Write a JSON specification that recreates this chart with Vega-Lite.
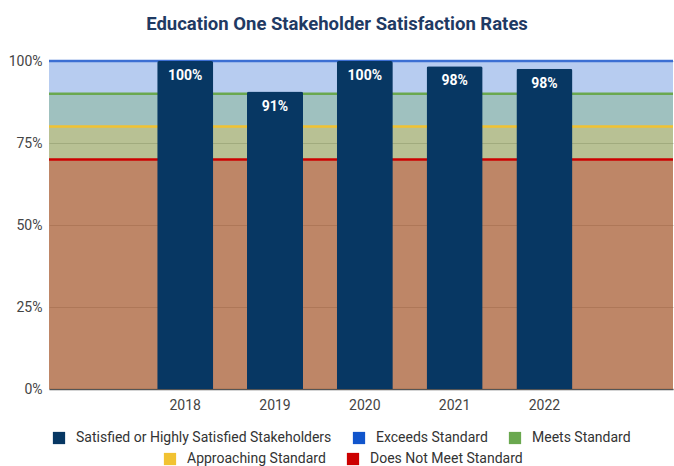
{
  "$schema": "https://vega.github.io/schema/vega-lite/v6.json",
  "autosize": {"type": "none"},
  "width": 624,
  "height": 328,
  "padding": {"left": 49, "top": 61, "right": 1, "bottom": 77},
  "background": "white",
  "title": {
    "text": "Education One Stakeholder Satisfaction Rates",
    "font": "Roboto",
    "fontSize": 18.5,
    "fontWeight": "bold",
    "color": "#1f3a63",
    "anchor": "middle",
    "dx": -24,
    "offset": 21
  },
  "datasets": {
    "bars": [
      {"year": "2018", "rate": 1.0},
      {"year": "2019", "rate": 0.907},
      {"year": "2020", "rate": 1.0},
      {"year": "2021", "rate": 0.984},
      {"year": "2022", "rate": 0.976}
    ],
    "bands": [
      {"level": "Exceeds Standard", "value": 1.0},
      {"level": "Meets Standard", "value": 0.9},
      {"level": "Approaching Standard", "value": 0.8},
      {"level": "Does Not Meet Standard", "value": 0.7}
    ]
  },
  "encoding": {
    "y": {
      "type": "quantitative",
      "scale": {"domain": [0, 1], "nice": false},
      "axis": {
        "values": [0, 0.25, 0.5, 0.75, 1],
        "format": ".0%",
        "title": null,
        "domain": false,
        "ticks": false,
        "grid": true,
        "gridColor": "#bdbdbd",
        "labelFont": "Roboto",
        "labelFontSize": 14,
        "labelColor": "#444444",
        "labelPadding": 7
      }
    }
  },
  "layer": [
    {
      "data": {"name": "bands"},
      "transform": [{"filter": {"field": "level", "oneOf": ["Exceeds Standard", "Meets Standard"]}}],
      "mark": {"type": "rect", "fillOpacity": 0.3},
      "encoding": {
        "y": {"field": "value", "type": "quantitative"},
        "y2": {"datum": 0},
        "color": {
          "field": "level",
          "type": "nominal",
          "scale": {
            "domain": ["Satisfied or Highly Satisfied Stakeholders", "Exceeds Standard", "Meets Standard"],
            "range": ["#073763", "#1155cc", "#6aa84f"]
          },
          "legend": {
            "title": null,
            "orient": "none",
            "legendX": 3,
            "legendY": 370,
            "direction": "horizontal",
            "symbolType": "square",
            "symbolOpacity": 1,
            "symbolSize": 150,
            "symbolStrokeWidth": 0,
            "labelFont": "Roboto",
            "labelFontSize": 14,
            "labelColor": "#333333",
            "labelLimit": 0,
            "columnPadding": 20,
            "labelOffset": 10
          }
        }
      }
    },
    {
      "data": {"name": "bands"},
      "transform": [{"filter": {"field": "level", "oneOf": ["Approaching Standard", "Does Not Meet Standard"]}}],
      "mark": {"type": "rect", "fillOpacity": 0.3},
      "encoding": {
        "y": {"field": "value", "type": "quantitative"},
        "y2": {"datum": 0},
        "fill": {
          "field": "level",
          "type": "nominal",
          "scale": {
            "domain": ["Approaching Standard", "Does Not Meet Standard"],
            "range": ["#f1c232", "#cc0000"]
          },
          "legend": {
            "title": null,
            "orient": "none",
            "legendX": 114,
            "legendY": 391,
            "direction": "horizontal",
            "symbolType": "square",
            "symbolOpacity": 1,
            "symbolSize": 150,
            "symbolStrokeWidth": 0,
            "labelFont": "Roboto",
            "labelFontSize": 14,
            "labelColor": "#333333",
            "labelLimit": 0,
            "columnPadding": 20,
            "labelOffset": 10
          }
        }
      }
    },
    {
      "data": {"name": "bands"},
      "mark": {"type": "rule", "strokeWidth": 2.5},
      "encoding": {
        "y": {"field": "value", "type": "quantitative"},
        "stroke": {
          "field": "level",
          "type": "nominal",
          "scale": {
            "domain": ["Exceeds Standard", "Meets Standard", "Approaching Standard", "Does Not Meet Standard"],
            "range": ["#3c6fd3", "#6aa84f", "#f1c232", "#cc0000"]
          },
          "legend": null
        }
      }
    },
    {
      "data": {"name": "bars"},
      "mark": {"type": "bar", "cornerRadiusTopLeft": 2, "cornerRadiusTopRight": 2},
      "encoding": {
        "x": {
          "field": "year",
          "type": "nominal",
          "scale": {
            "domain": ["L", "2018", "2019", "2020", "2021", "2022", "R"],
            "paddingInner": 0.376,
            "paddingOuter": 0.1625,
            "align": 0.63
          },
          "axis": {
            "title": null,
            "labelExpr": "datum.label == 'L' || datum.label == 'R' ? '' : datum.label",
            "labelAngle": 0,
            "ticks": false,
            "domain": true,
            "domainColor": "#555555",
            "domainWidth": 1.5,
            "labelFont": "Roboto",
            "labelFontSize": 14,
            "labelColor": "#444444",
            "labelPadding": 9
          }
        },
        "y": {"field": "rate", "type": "quantitative"},
        "color": {"datum": "Satisfied or Highly Satisfied Stakeholders", "type": "nominal"}
      }
    },
    {
      "data": {"name": "bars"},
      "mark": {
        "type": "text",
        "baseline": "middle",
        "dy": 15,
        "font": "Roboto",
        "fontSize": 14,
        "fontWeight": "bold",
        "color": "white"
      },
      "encoding": {
        "x": {"field": "year", "type": "nominal"},
        "y": {"field": "rate", "type": "quantitative"},
        "text": {"field": "rate", "type": "quantitative", "format": ".0%"}
      }
    }
  ],
  "config": {
    "view": {"stroke": null}
  }
}
